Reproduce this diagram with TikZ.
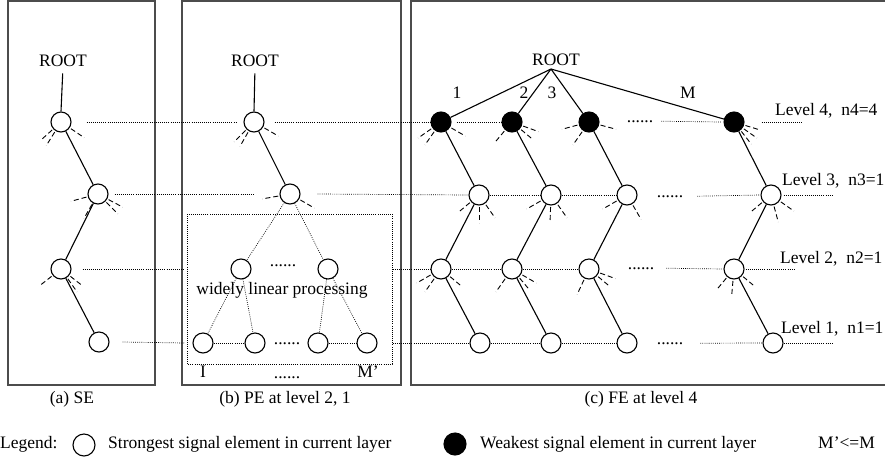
\documentclass[tikz,border=0pt]{standalone}
\usepackage{fontspec}
\setmainfont{Liberation Serif}
\newcommand\nrays[2]{\foreach \a in {#2}{\draw[ray] (#1.center) ++(-\a:12) -- ++(-\a:16);}}
\begin{document}
\begin{tikzpicture}[x=1pt,y=-1pt,
  font=\fontsize{17.5}{20}\selectfont,
  frame/.style={draw=black!70, line width=1.5pt},
  nd/.style={circle, draw, line width=1.1pt, minimum size=20pt, inner sep=0pt},
  blk/.style={nd, fill=black},
  edge/.style={line width=1.1pt},
  dot/.style={line width=0.7pt, dash pattern=on 0.8pt off 1.3pt},
  ray/.style={line width=0.9pt, dash pattern=on 5pt off 3pt},
  txt/.style={inner sep=0pt, anchor=base}]
\useasboundingbox (0,0) rectangle (885,461);
% frames
\draw[frame] (8,1) rectangle (155,385);
\draw[frame] (182,1) rectangle (401,385);
\draw[frame] (885,1) -- (411,1) -- (411,385) -- (885,385);
\draw[dot] (187,214) rectangle (392,364);

% (a) SE
\node[txt] (ra) at (63,66) {ROOT};
\node[nd] (a1) at (61,122) {};
\node[nd] (a2) at (98,194) {};
\node[nd] (a3) at (61,269) {};
\node[nd] (a4) at (99,342) {};
\draw[edge, shorten <=7pt] (ra.south) -- (a1.north);
\draw[edge] (a1) -- (a2);
\draw[edge] (a2) -- (a3);
\draw[edge] (a3) -- (a4);
\nrays{a1}{222,238,326}
\nrays{a2}{195,240,315,332}
\nrays{a3}{218,305,322}

% (b) PE
\node[txt] (rb) at (255,66) {ROOT};
\node[nd] (b1) at (254,122) {};
\node[nd] (b2) at (290,194) {};
\node[nd] (b3) at (241,269) {};
\node[nd] (b4) at (328,269) {};
\node[nd] (b5) at (203,343) {};
\node[nd] (b6) at (255,343) {};
\node[nd] (b7) at (318,343) {};
\node[nd] (b8) at (367,343) {};
\draw[edge, shorten <=7pt] (rb.south) -- (b1.north);
\draw[edge] (b1) -- (b2);
\draw[dot] (b2) -- (b3);
\draw[dot] (b2) -- (b4);
\draw[dot] (b3) -- (b5);
\draw[dot] (b3) -- (b6);
\draw[dot] (b4) -- (b7);
\draw[dot] (b4) -- (b8);
\nrays{b1}{225,240,330}
\nrays{b2}{190,330}
\node[txt] (bd2) at (283,266) {......};
\node[txt] (wl) at (282,294) {widely linear processing};
\node[txt] (bd1) at (287,344) {......};
\node[txt] (bI) at (203,377) {I};
\node[txt] (bM) at (368,377) {M'};
\node[txt] (bd0) at (287,378) {......};

% (c) FE
\node[txt] (rc) at (556,65) {ROOT};
\coordinate (apex) at (551,69);
\node[blk] (c1) at (441,122) {};
\node[blk] (c2) at (512,122) {};
\node[blk] (c3) at (589,122) {};
\node[blk] (c4) at (734,122) {};
\node[nd] (c5) at (479,195) {};
\node[nd] (c6) at (551,195) {};
\node[nd] (c7) at (627,195) {};
\node[nd] (c8) at (771,195) {};
\node[nd] (c9) at (441,269) {};
\node[nd] (c10) at (512,269) {};
\node[nd] (c11) at (589,269) {};
\node[nd] (c12) at (734,269) {};
\node[nd] (c13) at (480,343) {};
\node[nd] (c14) at (551,343) {};
\node[nd] (c15) at (627,343) {};
\node[nd] (c16) at (773,343) {};
\foreach \n in {c1,c2,c3,c4} \draw[edge] (apex) -- (\n);
\draw[edge] (c1) -- (c5); \draw[edge] (c5) -- (c9); \draw[edge] (c9) -- (c13);
\draw[edge] (c2) -- (c6); \draw[edge] (c6) -- (c10); \draw[edge] (c10) -- (c14);
\draw[edge] (c3) -- (c7); \draw[edge] (c7) -- (c11); \draw[edge] (c11) -- (c15);
\draw[edge] (c4) -- (c8); \draw[edge] (c8) -- (c12); \draw[edge] (c12) -- (c16);
\node[txt] (l1) at (457,98) {1};
\node[txt] (l2) at (524,98) {2};
\node[txt] (l3) at (552,98) {3};
\node[txt] (lM) at (688,98) {M};
\nrays{c1}{215,235,330}
\nrays{c2}{230,320,340}
\nrays{c3}{195,235,345}
\nrays{c4}{308,325,343}
\nrays{c5}{220,270,305}
\nrays{c6}{210,268,305}
\nrays{c7}{210,300}
\nrays{c8}{220,285,325}
\nrays{c9}{210,235,320}
\nrays{c10}{235,310,330}
\nrays{c11}{245,320,340}
\nrays{c12}{230,265,320}
\node[txt] (d4) at (640,122) {......};
\node[txt] (d3) at (670,197) {......};
\node[txt] (d2) at (641,269) {......};
\node[txt] (d1) at (670,344) {......};

% level lines
\draw[dot] ([xshift=15pt]a1.east) -- ([xshift=-7pt]b1.west);
\draw[dot] ([xshift=10pt]b1.east) -- (c1.west);
\draw[dot] ([xshift=5pt]c1.east) -- (c2.west);
\draw[dot] ([xshift=8pt]d4.east) -- ([xshift=-2pt]c4.west);
\draw[dot] ([xshift=17pt]c4.east) -- ++(40,0) coordinate (e4);

\draw[dot] ([xshift=6pt]a2.east) -- ([xshift=-25pt]b2.west);
\draw[dot] ([xshift=17pt]b2.east) -- (c5.west);
\draw[dot] (c5.east) -- (c6.west);
\draw[dot] (c6.east) -- (c7.west);
\draw[dot] ([xshift=14pt]d3.east) -- (c8.west);
\draw[dot] ([xshift=2pt]c8.east) -- ++(50,0) coordinate (e3);

\draw[dot] ([xshift=11pt]a3.east) -- ([xshift=-46pt]b3.west);
\draw[dot] ([xshift=54pt]b4.east) -- (c9.west);
\draw[dot] (c9.east) -- (c10.west);
\draw[dot] (c10.east) -- (c11.west);
\draw[dot] ([xshift=12pt]d2.east) -- (c12.west);
\draw[dot] ([xshift=1pt]c12.east) -- ++(50,0) coordinate (e2);

\draw[dot] ([xshift=13pt]a4.east) -- ([xshift=-8pt]b5.west);
\draw[dot] (b5.east) -- (b6.west);
\draw[dot] (b7.east) -- (b8.west);
\draw[dot] ([xshift=15pt]b8.east) -- (c13.west);
\draw[dot] (c13.east) -- (c14.west);
\draw[dot] (c14.east) -- (c15.west);
\draw[dot] ([xshift=17pt]d1.east) -- (c16.west);
\draw[dot] (c16.east) -- ++(50,0) coordinate (e1);

\node[txt, anchor=base west] (t4) at (775,115) {Level 4,\ \ n4=4};
\node[txt, anchor=base west] (t3) at (782,185) {Level 3,\ \ n3=1};
\node[txt, anchor=base west] (t2) at (780,263) {Level 2,\ \ n2=1};
\node[txt, anchor=base west] (t1) at (781,333) {Level 1,\ \ n1=1};

% captions
\node[txt] (capa) at (72,403) {(a) SE};
\node[txt] (capb) at (285,403) {(b) PE at level 2, 1};
\node[txt] (capc) at (641,403) {(c) FE at level 4};

% legend
\node[txt, anchor=base west] (lg) at (0,448) {Legend:};
\node[nd, minimum size=22pt] (lgs) at (84,445) {};
\node[txt, anchor=base west] (lgst) at (108,448) {Strongest signal element in current layer};
\node[blk, minimum size=22pt] (lgw) at (455,444) {};
\node[txt, anchor=base west] (lgwt) at (480,448) {Weakest signal element in current layer};
\node[txt, anchor=base west] (lgm) at (818,448) {M'<=M};
\end{tikzpicture}
\end{document}
